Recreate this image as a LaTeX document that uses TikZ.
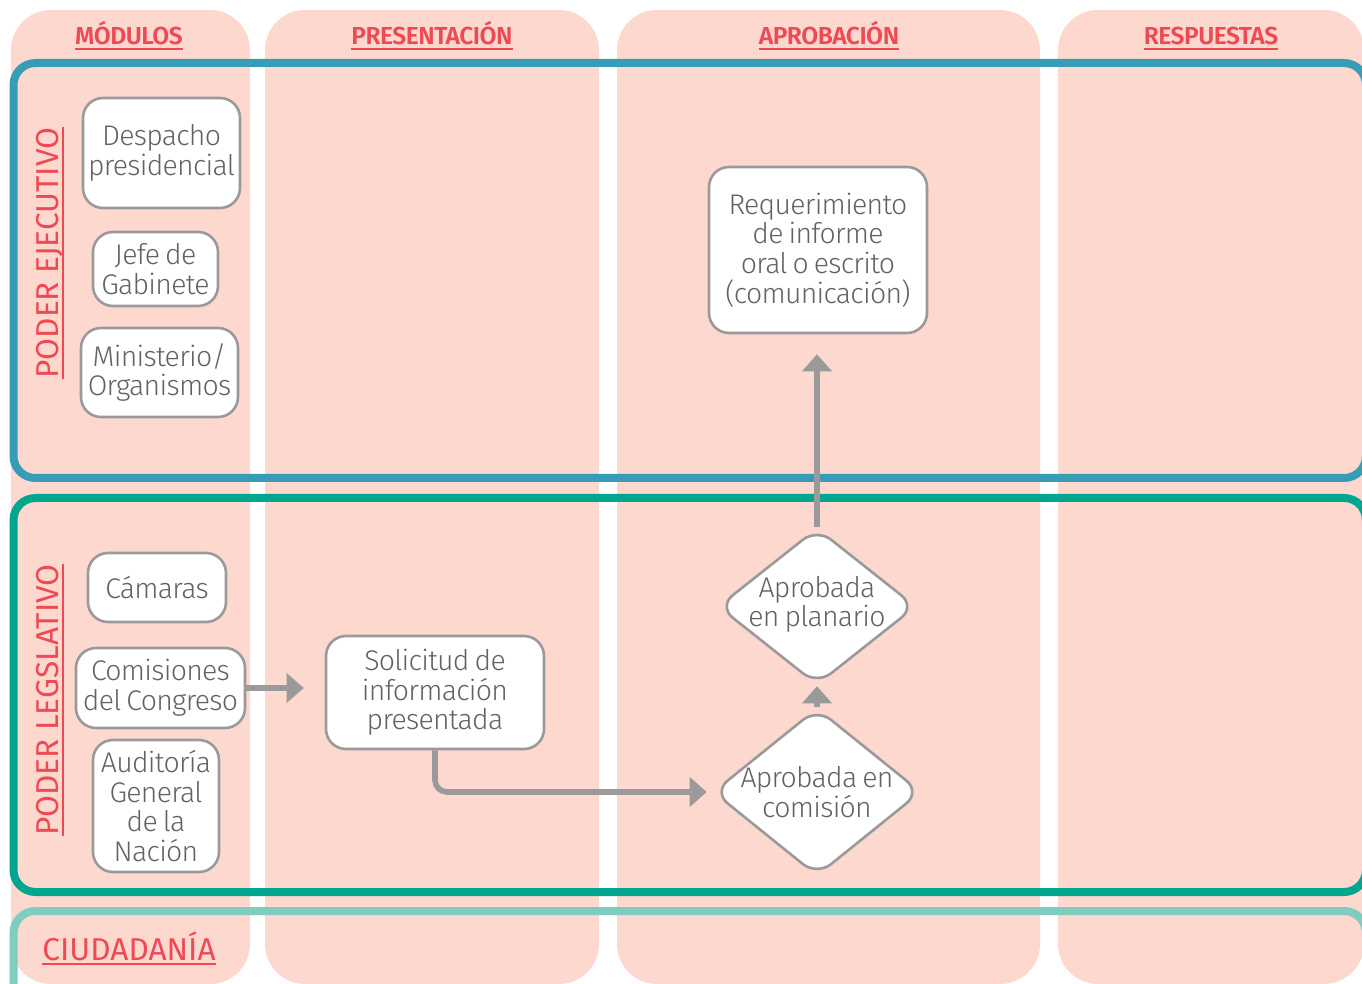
\documentclass[tikz,border=0pt]{standalone}
\usepackage{fontspec}
\setmainfont{Fira Sans Light}[LetterSpace=-2.5, WordSpace=0.7]
\newfontfamily\cabfont{Fira Sans SemiBold}[LetterSpace=-2]
\newfontfamily\latfont{Fira Sans}
\newcommand{\subrayado}[1]{\setbox0\hbox{#1}\rlap{\copy0}\rule[-2.6pt]{\wd0}{1pt}}
\usetikzlibrary{arrows.meta,shapes.geometric}
\definecolor{rosa}{HTML}{FCD8CF}
\definecolor{rojo}{HTML}{EF4A54}
\definecolor{azul}{HTML}{379CB6}
\definecolor{verde}{HTML}{00A78E}
\definecolor{turquesa}{HTML}{7ECDC0}
\definecolor{gris}{HTML}{9A9A9A}
\definecolor{texto}{HTML}{626262}

\begin{document}
\begin{tikzpicture}[x=0.5pt, y=-0.5pt,
		% columnas y marcos de fondo
		columna/.style={fill=rosa, rounded corners=20pt},
		marco/.style={line width=4pt, rounded corners=11pt},
		cabecera/.style={text=rojo, font=\cabfont\fontsize{12.3}{14}\selectfont, inner sep=0pt, anchor=base},
		lateral/.style={text=rojo, font=\latfont\fontsize{15.8}{18}\selectfont, inner sep=0pt},
		% cajas del flujo
		caja/.style={draw=gris, line width=1.3pt, fill=white, rounded corners=10pt, text=texto, align=center, inner sep=0pt, font=\fontsize{14.2}{14.8}\selectfont},
		rombo/.style={diamond, draw=gris, line width=1.3pt, fill=white, rounded corners=9pt, inner sep=0pt},
		rombotexto/.style={text=texto, align=center, font=\fontsize{14.2}{14.8}\selectfont},
		flecha/.style={draw=gris, line width=2.8pt, -{Triangle[width=14.5pt,length=8.5pt]}}
		]
		\useasboundingbox (0,0) rectangle (1362,984);

		\fill[columna] (11,10) rectangle (250,984);
		\fill[columna] (265,10) rectangle (599,984);
		\fill[columna] (617,10) rectangle (1040,984);
		\fill[columna] (1058,10) rectangle (1364,984);

		\draw[marco, draw=azul] (13.5,63) rectangle (1366,478);
		\draw[marco, draw=verde] (13.5,498) rectangle (1366,892);
		\draw[marco, draw=turquesa] (13.5,911) rectangle (1366,1010);

		\node[cabecera] (modulos) at (129,45) {\subrayado{MÓDULOS}};
		\node[cabecera] (presentacion) at (432,45) {\subrayado{PRESENTACIÓN}};
		\node[cabecera] (aprobacion) at (829,45) {\subrayado{APROBACIÓN}};
		\node[cabecera] (respuestas) at (1211,45) {\subrayado{RESPUESTAS}};

		\node[lateral, rotate=90] (ejecutivo) at (50,253) {\subrayado{PODER EJECUTIVO}};
		\node[lateral, rotate=90] (legislativo) at (50,700) {\subrayado{PODER LEGSLATIVO}};
		\node[lateral, anchor=base west] (ciudadania) at (42,960) {\subrayado{CIUDADANÍA}};

		\node[caja, minimum width=78.5pt, minimum height=55pt] (despacho) at (161.5,153) {Despacho\\presidencial};
		\node[caja, minimum width=62.5pt, minimum height=37pt] (jefe) at (155.5,269) {Jefe de\\Gabinete};
		\node[caja, minimum width=78.5pt, minimum height=44.5pt] (ministerio) at (159.5,372.5) {Ministerio/\\Organismos};
		\node[caja, minimum width=69pt, minimum height=34.5pt] (camaras) at (157,587.5) {Cámaras};
		\node[caja, minimum width=84.5pt, minimum height=40pt] (comisiones) at (160.5,688) {Comisiones\\del Congreso};
		\node[caja, minimum width=63pt, minimum height=66pt] (auditoria) at (156,806) {Auditoría\\General\\de la\\Nación};
		\node[caja, minimum width=109pt, minimum height=56.5pt] (solicitud) at (435,692.5) {Solicitud de\\información\\presentada};
		\node[caja, minimum width=109pt, minimum height=83pt] (requerimiento) at (818,250) {Requerimiento\\de informe\\oral o escrito\\(comunicación)};
		\node[rombo, minimum width=99pt, minimum height=78.5pt, label={[rombotexto, yshift=1pt]center:Aprobada\\en planario}] (planario) at (817,606.5) {};
		\node[rombo, minimum width=104pt, minimum height=84pt, label={[rombotexto]center:Aprobada en\\comisión}] (comision) at (817,792) {};

		\draw[flecha, shorten >=10.5pt] (comisiones.east) -- (comisiones.east -| solicitud.west);
		\draw[flecha, rounded corners=6pt, shorten >=2.5pt] (solicitud.south) |- (comision.west);
		\draw[flecha, shorten >=0pt] (comision.north) -- (planario.south);
		\draw[flecha, shorten >=10pt] (planario.north) -- (planario.north |- requerimiento.south);
	\end{tikzpicture}
\end{document}
